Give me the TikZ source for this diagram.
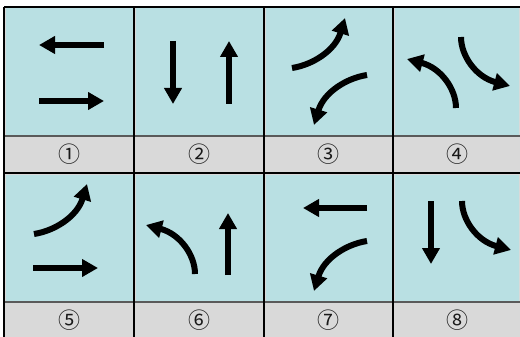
\documentclass[tikz,border=0pt]{standalone}
\usepackage{fontspec}
\newfontfamily\cjk{Noto Sans CJK SC}
\usetikzlibrary{arrows.meta}
\definecolor{cellcyan}{RGB}{185,224,227}
\definecolor{cellgray}{RGB}{217,217,217}
\definecolor{sepgray}{RGB}{90,90,90}
\begin{document}
\begin{tikzpicture}[x=1pt,y=-1pt,
  arr/.style={line width=6pt,-{Triangle[length=16pt,width=17pt]}},
  lbl/.style={font=\cjk\fontsize{22}{22}\selectfont,inner sep=0pt,text=black!90},
  vline/.style={line width=1.4pt,black},
  sepline/.style={line width=2pt,sepgray}]
\useasboundingbox (0,0) rectangle (520,337);
\fill[white] (0,0) rectangle (520,337);
\fill[cellgray] (4,7) rectangle (520,337);
% cyan cells
\foreach \xa/\xb in {4/134,134/264,264/393,393/520}{
  \foreach \ya/\yb in {7/136,173/302}{
    \fill[cellcyan] (\xa+1.5,\ya+1.5) rectangle (\xb-1.5,\yb-1);
  }
}
% grid lines
\draw[vline] (4,7) -- (520,7);
\draw[sepline] (4,136) -- (520,136);
\draw[vline] (4,173) -- (520,173);
\draw[sepline] (4,302) -- (520,302);
\foreach \x in {4,134,264,393}{\draw[vline] (\x,7) -- (\x,337);}
% cell 1
\draw[arr] (104,45) -- (39,45);
\draw[arr] (39,101) -- (104,101);
% cell 2
\draw[arr] (173,41) -- (173,104);
\draw[arr] (229,104) -- (229,41);
% cell 3
\draw[arr] (292,68) .. controls (312,65) and (335,51) .. (345,18);
\draw[arr] (367,75) .. controls (347,78) and (324,92) .. (314,125);
% cell 4
\draw[arr] (456,108) .. controls (456,89) and (441,68) .. (407,59);
\draw[arr] (461,37) .. controls (461,56) and (476,77) .. (510,86);
% cell 5
\draw[arr] (34,234) .. controls (54,231) and (77,217) .. (87,184);
\draw[arr] (33,268) -- (98,268);
% cell 6
\draw[arr] (195,274) .. controls (195,255) and (180,234) .. (146,225);
\draw[arr] (228,275) -- (228,213);
% cell 7
\draw[arr] (367,208) -- (303,208);
\draw[arr] (367,241) .. controls (347,244) and (324,258) .. (314,291);
% cell 8
\draw[arr] (431,201) -- (431,264);
\draw[arr] (462,201) .. controls (462,220) and (477,241) .. (511,250);
% labels
\node[lbl] (l1) at (69,154.5) {①};
\node[lbl] (l2) at (199,154.5) {②};
\node[lbl] (l3) at (328.5,154.5) {③};
\node[lbl] (l4) at (457,154.5) {④};
\node[lbl] (l5) at (69,320.5) {⑤};
\node[lbl] (l6) at (199,320.5) {⑥};
\node[lbl] (l7) at (328.5,320.5) {⑦};
\node[lbl] (l8) at (457,320.5) {⑧};
\end{tikzpicture}
\end{document}
